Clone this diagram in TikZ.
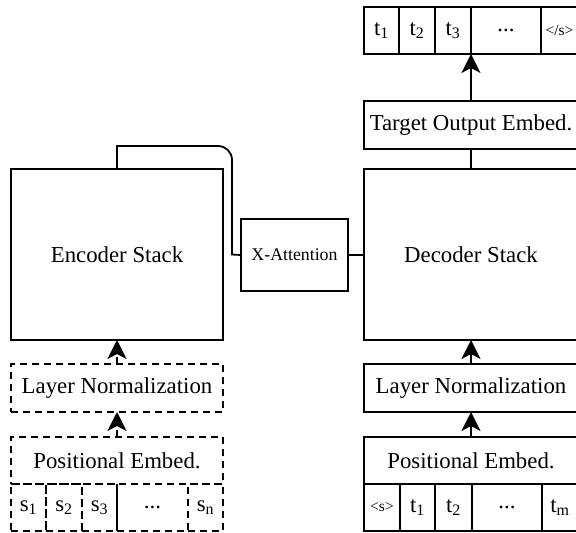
\documentclass[tikz,border=0pt]{standalone}
\usepackage{fontspec}
\setmainfont{Liberation Serif}
\usetikzlibrary{positioning,arrows.meta}

\tikzset{
  blk/.style={draw, line width=1.8pt, inner sep=0pt, outer sep=0pt,
    font=\fontsize{22.8}{27}\selectfont},
  dblk/.style={blk, dash pattern=on 7pt off 5pt},
  tok/.style={blk, minimum height=47pt},
  dtok/.style={dblk, minimum height=47pt},
  small/.style={font=\fontsize{15.5}{18}\selectfont},
  wire/.style={line width=1.8pt},
  arr/.style={wire, -{Stealth[length=19pt,width=19pt,inset=5pt]}},
}

\begin{document}
\begin{tikzpicture}[x=1pt,y=-1pt]
  \useasboundingbox (0,0) rectangle (576,533);

  % encoder side
  \node[blk, minimum width=212pt, minimum height=171pt] (enc) at (117,254.5) {Encoder Stack};
  \node[dblk, minimum width=212pt, minimum height=48pt, below=24pt of enc] (eln) {Layer Normalization};
  \node[dblk, minimum width=212pt, minimum height=47pt, below=25pt of eln] (epe) {Positional Embed.};
  \node[dtok, minimum width=35pt, anchor=north west] (s1) at (epe.south west) {s\textsubscript{1}};
  \node[dtok, minimum width=36pt, right=0pt of s1] (s2) {s\textsubscript{2}};
  \node[dtok, minimum width=35pt, right=0pt of s2] (s3) {s\textsubscript{3}};
  \node[dtok, minimum width=71pt, right=0pt of s3] (sdots) {...};
  \node[dtok, minimum width=35pt, right=0pt of sdots] (sn) {s\textsubscript{n}};
  \draw[wire] (sdots.north west) -- (sdots.south west);

  \draw[arr, dash pattern=on 7pt off 5pt] (epe.north) -- (eln.south);
  \draw[arr, dash pattern=on 7pt off 5pt] (eln.north) -- (enc.south);

  % cross attention
  \node[blk, minimum width=107pt, minimum height=72pt, font=\fontsize{17.8}{21}\selectfont] (xatt) at (294.5,255) {X-Attention};

  % decoder side
  \node[blk, minimum width=214pt, minimum height=171pt] (dec) at (471,254.5) {Decoder Stack};
  \node[blk, minimum width=214pt, minimum height=48pt, below=24pt of dec] (dln) {Layer Normalization};
  \node[blk, minimum width=214pt, minimum height=47pt, below=25pt of dln] (dpe) {Positional Embed.};
  \node[tok, small, minimum width=36pt, anchor=north west] (d0) at (dpe.south west) {<s>};
  \node[tok, minimum width=35pt, right=0pt of d0] (d1) {t\textsubscript{1}};
  \node[tok, minimum width=37pt, right=0pt of d1] (d2) {t\textsubscript{2}};
  \node[tok, minimum width=70pt, right=0pt of d2] (ddots) {...};
  \node[tok, minimum width=36pt, right=0pt of ddots] (dm) {t\textsubscript{m}};

  \draw[arr] (dpe.north) -- (dln.south);
  \draw[arr] (dln.north) -- (dec.south);

  \node[blk, minimum width=214pt, minimum height=48pt, above=20pt of dec] (toe) {Target Output Embed.};
  \node[tok, minimum width=35pt, anchor=south west] (o1) at ([yshift=47pt]toe.north west) {t\textsubscript{1}};
  \node[tok, minimum width=36pt, right=0pt of o1] (o2) {t\textsubscript{2}};
  \node[tok, minimum width=36pt, right=0pt of o2] (o3) {t\textsubscript{3}};
  \node[tok, minimum width=70pt, right=0pt of o3] (odots) {...};
  \node[tok, small, minimum width=37pt, right=0pt of odots] (oend) {</s>};

  \draw[wire] (dec.north) -- (toe.south);
  \draw[arr] (toe.north) -- (o3.south east);

  % connections through X-Attention
  \draw[wire] (enc.north) -- ++(0,-23) [rounded corners=14pt] -- ++(115,0) [sharp corners] -- ++(0,108.5) -- (xatt.west);
  \draw[wire] (xatt.east) -- (xatt.east -| dec.west);
\end{tikzpicture}
\end{document}
